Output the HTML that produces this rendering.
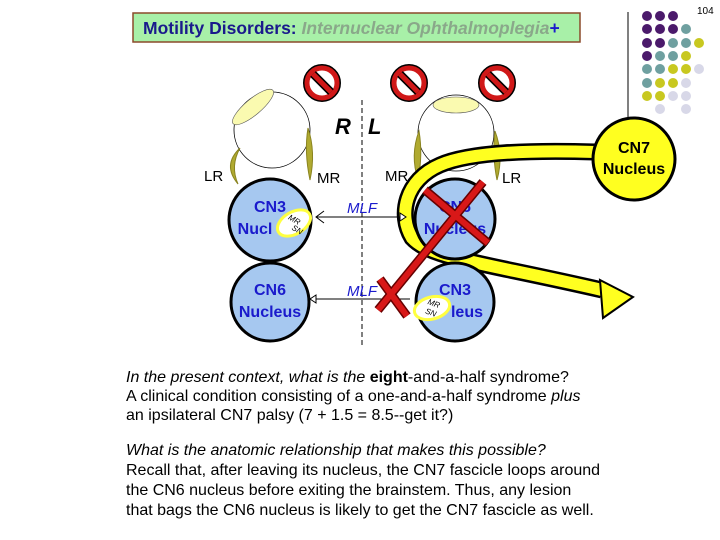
<!DOCTYPE html>
<html><head><meta charset="utf-8"><style>
html,body{margin:0;padding:0;background:#fff}
svg{display:block}
text{font-family:"Liberation Sans",Arial,sans-serif}
</style></head><body>
<svg width="720" height="540" viewBox="0 0 720 540" xmlns="http://www.w3.org/2000/svg">
<rect x="133" y="13" width="447" height="29" fill="#a8f0a8" stroke="#8b4a2a" stroke-width="1.5"/>
<text x="143" y="34" font-size="17.5" font-weight="bold" fill="#1a1a8c">Motility Disorders: <tspan fill="#8aa88a" font-style="italic">Internuclear Ophthalmoplegia</tspan><tspan fill="#1a1acc">+</tspan></text>
<text x="697" y="14" font-size="10" fill="#000">104</text>
<line x1="628" y1="12" x2="628" y2="120" stroke="#000" stroke-width="1"/>
<g>
<circle cx="647" cy="16" r="5" fill="#4b1a6b"/><circle cx="660" cy="16" r="5" fill="#4b1a6b"/><circle cx="673" cy="16" r="5" fill="#4b1a6b"/>
<circle cx="647" cy="29" r="5" fill="#4b1a6b"/><circle cx="660" cy="29" r="5" fill="#4b1a6b"/><circle cx="673" cy="29" r="5" fill="#4b1a6b"/><circle cx="686" cy="29" r="5" fill="#6fa0a0"/>
<circle cx="647" cy="43" r="5" fill="#4b1a6b"/><circle cx="660" cy="43" r="5" fill="#4b1a6b"/><circle cx="673" cy="43" r="5" fill="#6fa0a0"/><circle cx="686" cy="43" r="5" fill="#6fa0a0"/><circle cx="699" cy="43" r="5" fill="#c8c820"/>
<circle cx="647" cy="56" r="5" fill="#4b1a6b"/><circle cx="660" cy="56" r="5" fill="#6fa0a0"/><circle cx="673" cy="56" r="5" fill="#6fa0a0"/><circle cx="686" cy="56" r="5" fill="#c8c820"/>
<circle cx="647" cy="69" r="5" fill="#6fa0a0"/><circle cx="660" cy="69" r="5" fill="#6fa0a0"/><circle cx="673" cy="69" r="5" fill="#c8c820"/><circle cx="686" cy="69" r="5" fill="#c8c820"/><circle cx="699" cy="69" r="5" fill="#d8d8e8"/>
<circle cx="647" cy="83" r="5" fill="#6fa0a0"/><circle cx="660" cy="83" r="5" fill="#c8c820"/><circle cx="673" cy="83" r="5" fill="#c8c820"/><circle cx="686" cy="83" r="5" fill="#d8d8e8"/>
<circle cx="647" cy="96" r="5" fill="#c8c820"/><circle cx="660" cy="96" r="5" fill="#c8c820"/><circle cx="673" cy="96" r="5" fill="#d8d8e8"/><circle cx="686" cy="96" r="5" fill="#d8d8e8"/>
<circle cx="660" cy="109" r="5" fill="#d8d8e8"/><circle cx="686" cy="109" r="5" fill="#d8d8e8"/>
</g>
<line x1="362" y1="100" x2="362" y2="345" stroke="#000" stroke-width="1" stroke-dasharray="5,3"/>
<text x="335" y="134" font-size="22" font-style="italic" font-weight="bold">R</text>
<text x="368" y="134" font-size="22" font-style="italic" font-weight="bold">L</text>
<circle cx="272" cy="130" r="38" fill="#fff" stroke="#000" stroke-width="0.8"/>
<ellipse cx="253" cy="107" rx="26" ry="8" transform="rotate(-40 253 107)" fill="#fafab0" stroke="#555" stroke-width="0.6"/>
<circle cx="456" cy="133" r="38" fill="#fff" stroke="#000" stroke-width="0.8"/>
<ellipse cx="456" cy="105" rx="23" ry="8" fill="#fafab0" stroke="#555" stroke-width="0.6"/>
<path d="M240 148 Q222 165 238 184 Q230 166 240 148Z" fill="#b0aa30" stroke="#8a8420" stroke-width="1"/>
<path d="M308 128 Q316 152 310 180 Q304 152 308 128Z" fill="#b0aa30" stroke="#8a8420" stroke-width="1"/>
<path d="M419 131 Q410 155 418 180 Q423 155 419 131Z" fill="#b0aa30" stroke="#8a8420" stroke-width="1"/>
<path d="M495 131 Q504 155 497 180 Q492 155 495 131Z" fill="#b0aa30" stroke="#8a8420" stroke-width="1"/>
<text x="204" y="181" font-size="15">LR</text>
<text x="317" y="183" font-size="15">MR</text>
<text x="385" y="181" font-size="15">MR</text>
<text x="502" y="183" font-size="15">LR</text>
<path d="M595 152 C530 150 470 152 440 165 C405 180 398 215 412 238 C430 258 480 262 602 290" fill="none" stroke="#000" stroke-width="17"/>
<path d="M595 152 C530 150 470 152 440 165 C405 180 398 215 412 238 C430 258 480 262 602 290" fill="none" stroke="#ffff20" stroke-width="12"/>
<polygon points="600,280 633,297 603,318" fill="#ffff20" stroke="#000" stroke-width="2"/>
<circle cx="270" cy="220" r="41" fill="#a6c8f0" stroke="#000" stroke-width="3"/>
<circle cx="270" cy="302" r="39" fill="#a6c8f0" stroke="#000" stroke-width="3"/>
<circle cx="455" cy="219" r="40" fill="#a6c8f0" stroke="#000" stroke-width="3"/>
<circle cx="455" cy="302" r="39" fill="#a6c8f0" stroke="#000" stroke-width="3"/>
<circle cx="634" cy="159" r="41" fill="#ffff20" stroke="#000" stroke-width="3"/>
<g font-weight="bold" font-size="16" fill="#1a1acc" text-anchor="middle">
<text x="270" y="212">CN3</text><text x="255" y="234">Nucl</text>
<text x="270" y="295">CN6</text><text x="270" y="317">Nucleus</text>
<text x="455" y="212">CN6</text><text x="455" y="234">Nucleus</text>
<text x="455" y="295">CN3</text><text x="467" y="317">leus</text>
</g>
<text x="634" y="153" font-size="16" font-weight="bold" text-anchor="middle">CN7</text>
<text x="634" y="174" font-size="16" font-weight="bold" text-anchor="middle">Nucleus</text>
<ellipse cx="294" cy="223" rx="18" ry="11" transform="rotate(-30 294 223)" fill="#fff" stroke="#ffff40" stroke-width="3"/>
<text x="293" y="222" font-size="8" font-style="italic" text-anchor="middle" transform="rotate(30 293 222)">MR</text>
<text x="296" y="232" font-size="8" font-style="italic" text-anchor="middle" transform="rotate(30 296 232)">SN</text>
<ellipse cx="432" cy="308" rx="18" ry="11" transform="rotate(-15 432 308)" fill="#fff" stroke="#ffff40" stroke-width="3"/>
<text x="433" y="306" font-size="8" font-style="italic" text-anchor="middle" transform="rotate(20 433 306)">MR</text>
<text x="430" y="315" font-size="8" font-style="italic" text-anchor="middle" transform="rotate(20 430 315)">SN</text>
<line x1="316" y1="217" x2="400" y2="217" stroke="#000" stroke-width="1"/>
<polyline points="324,211 316,217 324,223" fill="none" stroke="#000" stroke-width="1"/>
<polygon points="400,213 406,217 400,221" fill="#fff" stroke="#000"/>
<text x="347" y="213" font-size="15" font-style="italic" fill="#1a1acc">MLF</text>
<line x1="316" y1="299" x2="410" y2="299" stroke="#000" stroke-width="1"/>
<polygon points="316,295 310,299 316,303" fill="#fff" stroke="#000"/>
<text x="347" y="296" font-size="15" font-style="italic" fill="#1a1acc">MLF</text>
<g stroke="#600" stroke-width="9">
<line x1="483" y1="182" x2="378" y2="310"/><line x1="425" y1="190" x2="488" y2="243"/><line x1="380" y1="279" x2="407" y2="316"/>
</g>
<g stroke="#d81818" stroke-width="6">
<line x1="483" y1="182" x2="378" y2="310"/><line x1="425" y1="190" x2="488" y2="243"/><line x1="380" y1="279" x2="407" y2="316"/>
</g>
<g>
<g transform="translate(322,83)"><circle r="15" fill="#fff" stroke="#000" stroke-width="8"/><circle r="15" fill="#fff" stroke="#d01818" stroke-width="5"/><line x1="-9" y1="-9" x2="9" y2="9" stroke="#000" stroke-width="8"/><line x1="-9" y1="-9" x2="9" y2="9" stroke="#d01818" stroke-width="5"/></g>
<g transform="translate(409,83)"><circle r="15" fill="#fff" stroke="#000" stroke-width="8"/><circle r="15" fill="#fff" stroke="#d01818" stroke-width="5"/><line x1="-9" y1="-9" x2="9" y2="9" stroke="#000" stroke-width="8"/><line x1="-9" y1="-9" x2="9" y2="9" stroke="#d01818" stroke-width="5"/></g>
<g transform="translate(497,83)"><circle r="15" fill="#fff" stroke="#000" stroke-width="8"/><circle r="15" fill="#fff" stroke="#d01818" stroke-width="5"/><line x1="-9" y1="-9" x2="9" y2="9" stroke="#000" stroke-width="8"/><line x1="-9" y1="-9" x2="9" y2="9" stroke="#d01818" stroke-width="5"/></g>
</g>
<g font-size="16" fill="#000">
<text x="126" y="382"><tspan font-style="italic">In the present context, what is the </tspan><tspan font-weight="bold">eight</tspan>-and-a-half syndrome?</text>
<text x="126" y="401">A clinical condition consisting of a one-and-a-half syndrome <tspan font-style="italic">plus</tspan></text>
<text x="126" y="420">an ipsilateral CN7 palsy (7 + 1.5 = 8.5--get it?)</text>
<text x="126" y="455" font-style="italic">What is the anatomic relationship that makes this possible?</text>
<text x="126" y="475">Recall that, after leaving its nucleus, the CN7 fascicle loops around</text>
<text x="126" y="495">the CN6 nucleus before exiting the brainstem. Thus, any lesion</text>
<text x="126" y="515">that bags the CN6 nucleus is likely to get the CN7 fascicle as well.</text>
</g>
</svg>
</body></html>
